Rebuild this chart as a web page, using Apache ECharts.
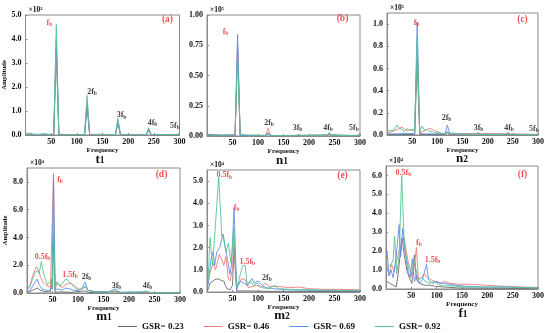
<!DOCTYPE html>
<html><head><meta charset="utf-8">
<script src="https://cdn.jsdelivr.net/npm/echarts@6/dist/echarts.min.js"></script>
<style>html,body{margin:0;padding:0;background:#fff}#c{width:550px;height:333px}</style>
</head><body><div id="c"></div>
<script>
const seriesNames = ['GSR= 0.23','GSR= 0.46','GSR= 0.69','GSR= 0.92'];
const colors = ['#6a6a6a','#f07a7a','#5b8ef0','#55c692'];
const panelTitles = [['t','1'],['n','1'],['n','2'],['m','1'],['m','2'],['f','1']];
const scaleLabels = ['×10²','×10⁵','×10⁵','×10⁴','×10⁴','×10⁴'];
const yMax = [5, 1.0, 1.1, 9, 5.5, 6.5];
const yStep = [1, 0.25, 0.2, 2, 1, 1];
const yDecimals = [1, 2, 1, 1, 1, 1];

// (a) t1, ×10^2
const a_gray = [[2,0.02],[30,0.01],[55,0.01],[60,3.5],[65,0.01],[115,0],[120,1.2],[125,0],[175,0],[180,0.5],[185,0],[235,0],[240,0.2],[245,0],[300,0.01]];
const a_red = [[2,0.03],[30,0.02],[55,0.01],[60,3.7],[65,0.04],[70,0.03],[80,0.01],[115,0.01],[120,1.4],[125,0.01],[175,0],[180,0.6],[185,0],[235,0],[240,0.25],[245,0],[300,0.02]];
const a_blue = [[2,0.08],[10,0.06],[15,0.03],[25,0.02],[35,0.06],[45,0.02],[55,0.01],[60,4.0],[65,0.02],[115,0.01],[120,1.3],[125,0.01],[175,0.01],[180,0.55],[185,0.01],[235,0],[240,0.22],[245,0],[300,0.03]];
const a_green = [[2,0.04],[20,0.02],[40,0.03],[55,0.02],[60,4.6],[65,0.05],[70,0.01],[115,0.02],[120,1.65],[125,0.03],[175,0.02],[180,0.7],[185,0.03],[235,0.02],[240,0.3],[245,0.02],[295,0.02],[300,0.05]];
// (b) n1, ×10^5
const b_gray = [[2,0.005],[55,0.003],[60,0.72],[65,0.003],[115,0.002],[120,0.02],[125,0.002],[240,0.01],[300,0.002]];
const b_red = [[2,0.01],[20,0.01],[40,0.005],[55,0.005],[60,0.76],[65,0.01],[70,0.015],[75,0.005],[115,0.005],[120,0.065],[125,0.005],[175,0.002],[180,0.01],[185,0.002],[235,0.003],[240,0.02],[245,0.003],[295,0.003],[300,0.02]];
const b_blue = [[2,0.015],[15,0.01],[30,0.005],[45,0.01],[55,0.005],[60,0.84],[65,0.005],[115,0.003],[120,0.02],[125,0.003],[175,0.002],[180,0.008],[185,0.002],[235,0.003],[240,0.025],[245,0.003],[300,0.005]];
const b_green = [[2,0.01],[20,0.005],[40,0.01],[55,0.01],[60,0.65],[65,0.01],[115,0.005],[120,0.03],[125,0.005],[175,0.003],[180,0.01],[185,0.003],[235,0.005],[240,0.03],[245,0.005],[295,0.005],[300,0.01]];
// (c) n2, ×10^5
const c_gray = [[2,0.005],[55,0.005],[60,0.66],[65,0.005],[115,0.003],[120,0.02],[125,0.003],[180,0.01],[300,0.003]];
const c_red = [[2,0.02],[10,0.03],[15,0.04],[20,0.05],[25,0.06],[30,0.07],[35,0.05],[40,0.04],[45,0.05],[50,0.04],[55,0.05],[60,0.8],[65,0.02],[70,0.03],[75,0.04],[80,0.05],[85,0.06],[90,0.05],[95,0.04],[100,0.03],[105,0.02],[110,0.01],[115,0.01],[120,0.03],[125,0.01],[180,0.01],[240,0.01],[300,0.005]];
const c_blue = [[2,0.01],[20,0.01],[40,0.015],[55,0.01],[60,1.02],[65,0.02],[70,0.01],[115,0.01],[120,0.09],[125,0.01],[175,0.005],[180,0.02],[185,0.005],[235,0.005],[240,0.02],[245,0.005],[300,0.005]];
const c_green = [[2,0.04],[10,0.04],[15,0.05],[20,0.09],[25,0.06],[30,0.05],[35,0.03],[40,0.06],[45,0.04],[50,0.05],[55,0.04],[60,0.88],[65,0.03],[70,0.08],[75,0.04],[80,0.05],[85,0.03],[90,0.03],[95,0.02],[105,0.02],[115,0.01],[120,0.03],[125,0.01],[130,0.02],[140,0.01],[175,0.005],[180,0.02],[185,0.005],[235,0.005],[240,0.015],[245,0.005],[300,0.005]];
// (d) m1, ×10^4
const d_gray = [[2,0.05],[8,0.15],[14,0.25],[20,0.35],[26,0.2],[34,0.1],[42,0.1],[46,0.1],[48,1.0],[50,0.3],[52,4.2],[55,0.05],[66,0.08],[86,0.05],[114,0.15],[122,0.03],[175,0.1],[183,0.02],[300,0.01]];
const d_red = [[2,0.3],[6,0.6],[11,1.2],[16,1.7],[19,1.9],[23,1.6],[26,1.2],[31,0.8],[36,0.6],[41,0.5],[46,0.4],[49,0.5],[52,8.6],[55,0.3],[59,0.7],[64,0.5],[70,0.4],[76,0.6],[82,0.7],[88,0.65],[94,0.5],[100,0.3],[107,0.25],[114,0.45],[119,0.2],[132,0.1],[175,0.1],[183,0.03],[233,0.05],[300,0.01]];
const d_blue = [[2,0.1],[6,0.2],[11,0.5],[16,0.8],[20,1.0],[24,0.6],[29,0.3],[36,0.2],[44,0.2],[49,0.3],[52,8.5],[55,0.2],[61,0.3],[68,0.2],[76,0.35],[84,0.3],[91,0.2],[98,0.15],[107,0.3],[114,0.8],[119,0.2],[132,0.1],[157,0.05],[175,0.3],[181,0.05],[228,0.05],[233,0.15],[240,0.03],[300,0.02]];
const d_green = [[2,0.3],[6,0.5],[11,1.0],[16,1.5],[21,1.6],[24,1.4],[28,2.25],[32,1.5],[36,1.0],[40,0.6],[44,0.8],[48,0.9],[50,0.5],[52,5.8],[55,0.2],[58,0.8],[62,0.7],[66,0.5],[71,0.8],[76,1.0],[81,0.9],[86,0.7],[91,0.5],[96,0.3],[101,0.2],[107,0.3],[114,0.5],[119,0.2],[127,0.1],[147,0.08],[175,0.15],[183,0.05],[233,0.1],[243,0.03],[300,0.02]];
// (e) m2, ×10^4
const e_gray = [[2,0.1],[6,0.4],[15,0.55],[22,0.6],[29,0.5],[33,0.5],[36,0.3],[39,0.15],[45,0.1],[50,0.3],[53,2.0],[58,0.05],[80,0.05],[120,0.03],[300,0.02]];
const e_red = [[2,0.4],[6,0.9],[12,1.3],[17,1.0],[24,1.7],[30,1.4],[33,1.2],[37,1.6],[42,0.6],[45,0.5],[50,1.0],[53,2.5],[58,0.2],[68,0.6],[75,0.55],[81,0.2],[90,0.25],[98,0.3],[106,0.2],[114,0.4],[122,0.25],[140,0.25],[160,0.2],[180,0.22],[200,0.15],[230,0.12],[260,0.12],[300,0.1]];
const e_blue = [[2,0.3],[8,1.5],[12,1.8],[15,1.2],[19,1.8],[25,2.0],[31,2.6],[35,2.1],[40,1.5],[45,0.8],[48,1.2],[53,3.8],[58,0.1],[65,0.5],[72,0.4],[80,0.3],[88,0.6],[93,0.4],[100,0.5],[108,0.3],[115,0.2],[130,0.15],[160,0.1],[200,0.08],[250,0.06],[300,0.05]];
const e_green = [[2,0.5],[6,2.45],[11,1.2],[23,5.18],[29,2.5],[32,2.6],[37,1.8],[42,2.2],[47,1.3],[53,2.9],[58,0.2],[62,0.5],[70,1.2],[75,1.2],[79,0.3],[84,0.5],[91,0.3],[98,0.4],[108,0.2],[120,0.15],[133,0.3],[140,0.15],[160,0.12],[200,0.1],[250,0.08],[300,0.06]];
// (f) f1, ×10^4
const f_gray = [[2,0.4],[8,0.3],[14,0.2],[20,0.1],[24,0.8],[28,1.8],[32,2.7],[36,1.8],[41,1.0],[46,0.6],[51,0.3],[56,1.8],[60,0.5],[66,0.3],[76,0.2],[86,0.2],[96,0.15],[116,0.1],[146,0.05],[300,0.02]];
const f_red = [[2,1.2],[6,0.7],[11,1.3],[16,0.9],[21,1.5],[26,2.0],[31,2.4],[36,2.7],[40,2.0],[44,1.4],[48,1.0],[52,0.6],[56,1.2],[60,2.2],[64,0.5],[70,0.6],[76,0.8],[82,0.6],[88,0.5],[96,0.4],[106,0.3],[116,0.4],[126,0.3],[146,0.25],[166,0.25],[196,0.2],[226,0.15],[256,0.12],[300,0.08]];
const f_blue = [[2,2.0],[6,0.7],[10,1.0],[14,0.6],[20,1.7],[26,3.4],[29,1.7],[33,3.2],[38,1.9],[43,1.0],[48,0.6],[52,1.6],[56,0.4],[60,0.7],[66,0.3],[72,0.5],[80,1.3],[84,0.5],[91,0.3],[101,0.4],[108,0.3],[116,0.3],[136,0.2],[156,0.15],[196,0.1],[246,0.1],[300,0.05]];
const f_green = [[2,1.3],[8,1.2],[14,1.5],[17,2.8],[21,0.8],[26,1.8],[31,6.0],[36,2.3],[41,1.5],[46,1.0],[51,0.8],[56,1.5],[60,0.9],[64,0.5],[71,0.6],[78,0.4],[86,0.3],[96,0.4],[106,0.2],[116,0.2],[136,0.15],[156,0.1],[196,0.1],[246,0.1],[300,0.05]];

// annotation texts: [text, x, y, colour key]
const a_ann = [['f_b',46.7,4.67,'r'],['(a)',276.6,4.79,'r'],['2f_b',129.6,1.79,'k'],['3f_b',187,0.83,'k'],['4f_b',247.4,0.5,'k'],['5f_b',291,0.375,'k']];
const b_ann = [['f_b',36.3,0.86,'r'],['(b)',265.7,0.967,'r'],['2f_b',121.6,0.107,'k'],['3f_b',177.5,0.066,'k'],['4f_b',237.3,0.066,'k'],['5f_b',288.2,0.066,'k']];
const c_ann = [['f_b',58.6,1.01,'r'],['(c)',269.2,1.037,'r'],['2f_b',118.2,0.153,'k'],['3f_b',181.8,0.063,'k'],['4f_b',242.4,0.063,'k'],['5f_b',292,0.054,'k']];
const d_ann = [['f_b',64.7,8.14,'r'],['(d)',263.7,8.5,'r'],['0.5f_b',30.4,2.61,'r'],['1.5f_b',84.3,1.3,'r'],['2f_b',116.7,1.17,'k'],['3f_b',175.5,0.5,'k'],['4f_b',236.3,0.5,'k']];
const e_ann = [['0.5f_b',33.9,5.27,'r'],['f_b',58,3.8,'r'],['1.5f_b',79,1.37,'r'],['2f_b',117.6,0.63,'k'],['(e)',265.7,5.27,'r']];
const f_ann = [['0.5f_b',34.5,6.15,'r'],['(f)',269.4,6.03,'r'],['f_b',65.1,2.43,'r'],['1.5f_b',91.8,1.53,'r']];

const panels = [
  {lines:[a_gray,a_red,a_blue,a_green], ann:a_ann},
  {lines:[b_gray,b_red,b_blue,b_green], ann:b_ann},
  {lines:[c_gray,c_red,c_blue,c_green], ann:c_ann},
  {lines:[d_gray,d_red,d_blue,d_green], ann:d_ann},
  {lines:[e_gray,e_red,e_blue,e_green], ann:e_ann},
  {lines:[f_gray,f_red,f_blue,f_green], ann:f_ann}
];

const FONT = "'Liberation Serif','Times New Roman',serif";
const RED = '#e8262a';
const grids = [
  {left:25.5, top:15, width:154, height:120},
  {left:207, top:15, width:153, height:121},
  {left:387, top:13, width:151, height:122},
  {left:27, top:168, width:153, height:125},
  {left:207, top:170, width:153, height:122},
  {left:386, top:166, width:152, height:123}
];
const titlePos = [[100,160],[282,161],[462,159],[104,317],[282,316],[463,314]];

const RICH = {
  k: {fontFamily:FONT, fontWeight:'bold', fontSize:8, color:'#111'},
  ks: {fontFamily:FONT, fontWeight:'bold', fontSize:5.5, color:'#111', padding:[4,0,0,0]},
  r: {fontFamily:FONT, fontWeight:'bold', fontSize:8, color:RED},
  rs: {fontFamily:FONT, fontWeight:'bold', fontSize:5.5, color:RED, padding:[4,0,0,0]},
  L: {fontFamily:FONT, fontWeight:'bold', fontSize:9.5, color:RED}
};
function fmt(t, c) {
  if (t.charAt(0) === '(') return '{L|' + t + '}';
  const p = t.split('_');
  return '{' + c + '|' + p[0] + '}' + (p[1] ? '{' + c + 's|' + p[1] + '}' : '');
}

const axisFont = {fontFamily:FONT, fontWeight:'bold', color:'#111'};
const option = {
  animation:false,
  backgroundColor:'#fff',
  grid: grids.map(g => Object.assign({show:true, borderColor:'#8a8a8a', borderWidth:1, containLabel:false, outerBoundsMode:'none'}, g)),
  xAxis: grids.map((g,i) => ({
    type:'value', gridIndex:i, min:0, max:300, interval:50,
    name:'Frequency', nameLocation:'middle', nameGap: i<3 ? 11 : 10,
    nameTextStyle: Object.assign({fontSize:7}, axisFont),
    axisLine:{show:true, lineStyle:{color:'#8a8a8a', width:1}},
    axisTick:{show:true, inside:true, length:2, lineStyle:{color:'#8a8a8a'}},
    splitLine:{show:false},
    axisLabel: Object.assign({fontSize:8, margin:3, showMinLabel:false}, axisFont)
  })),
  yAxis: grids.map((g,i) => ({
    type:'value', gridIndex:i, min:0, max:yMax[i], interval:yStep[i],
    name: (i===0||i===3) ? 'Amplitude' : '', nameLocation:'middle', nameGap:14.5,
    nameTextStyle: Object.assign({fontSize:6.5}, axisFont),
    axisLine:{show:true, lineStyle:{color:'#8a8a8a', width:1}},
    axisTick:{show:true, inside:true, length:2, lineStyle:{color:'#8a8a8a'}},
    splitLine:{show:false},
    axisLabel: Object.assign({fontSize:8, margin:4,
      showMaxLabel: Math.abs(yMax[i]/yStep[i] - Math.round(yMax[i]/yStep[i])) < 1e-6,
      formatter: v => Number(v).toFixed(yDecimals[i])}, axisFont)
  })),
  legend: {
    data: seriesNames.map(n => ({name:n, icon:'rect'})),
    left:113, top:317, itemWidth:19, itemHeight:1, itemGap:20,
    textStyle:{fontFamily:FONT, fontWeight:'bold', fontSize:9, color:'#111'}
  },
  series: [],
  graphic: []
};

panels.forEach((p, i) => {
  p.lines.forEach((d, k) => {
    option.series.push({
      type:'line', name:seriesNames[k], xAxisIndex:i, yAxisIndex:i, data:d,
      symbol:'none', showSymbol:false, clip:true, z:2+k,
      lineStyle:{width:0.9, color:colors[k]}, itemStyle:{color:colors[k]}
    });
  });
  option.series.push({
    type:'scatter', xAxisIndex:i, yAxisIndex:i, symbolSize:0, silent:true, z:20,
    label:{show:true, position:'inside', rich:RICH},
    data: p.ann.map(a => ({value:[a[1], a[2]], label:{show:true, position:'inside', formatter: fmt(a[0], a[3]), rich:RICH}}))
  });
  const g = grids[i];
  option.graphic.push({
    type:'text', left: g.left + 3, top: g.top - 9,
    style:{text: scaleLabels[i], font: "bold 7.5px " + FONT, fill:'#111'}
  });
  option.graphic.push({
    type:'text', x: titlePos[i][0], y: titlePos[i][1],
    style:{text:'{a|' + panelTitles[i][0] + '}{b|' + panelTitles[i][1] + '}', align:'center', verticalAlign:'middle',
      rich:{a:{fontFamily:FONT, fontWeight:'bold', fontSize:13, fill:'#111', color:'#111'}, b:{fontFamily:FONT, fontWeight:'bold', fontSize:9.5, fill:'#111', color:'#111', padding:[2,0,0,0]}}}
  });
});

const chart = echarts.init(document.getElementById('c'), null, {renderer:'canvas', width:550, height:333});
chart.setOption(option);
</script>
</body></html>
